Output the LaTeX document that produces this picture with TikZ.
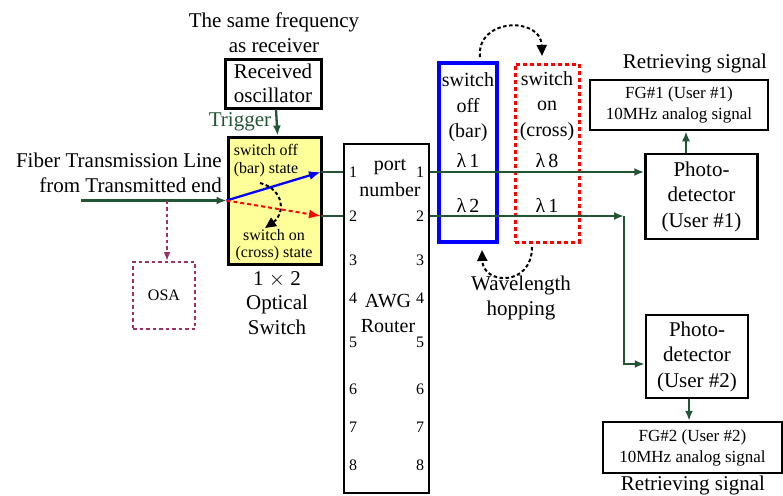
\documentclass[tikz,border=0pt]{standalone}
\usepackage{fontspec}
\setmainfont{Liberation Serif}
\usetikzlibrary{arrows.meta}
\definecolor{fgreen}{RGB}{34,85,51}
\definecolor{swyellow}{RGB}{255,255,153}
\definecolor{osapurple}{RGB}{153,51,102}
\begin{document}
\begin{tikzpicture}[x=1pt,y=-1pt,
  bigtext/.style={font=\fontsize{21}{24.5}\selectfont, align=center, inner sep=0pt},
  midtext/.style={font=\fontsize{20}{25.5}\selectfont, align=center, inner sep=0pt},
  smalltext/.style={font=\fontsize{16}{17.5}\selectfont, align=center, inner sep=0pt},
  box/.style={draw, line width=2.5pt, inner sep=0pt, align=center},
  gline/.style={draw=fgreen, line width=2.3pt},
  garrow/.style={gline, -{Latex[length=10pt,width=8pt]}},
  hoparrow/.style={draw=black, line width=2pt, dash pattern=on 3.5pt off 2.5pt, -{Triangle[length=11pt,width=10pt]}},
  portnum/.style={font=\fontsize{16}{18}\selectfont, inner sep=0pt}
]
\useasboundingbox (0,0) rectangle (783,495);

% ---------- oscillator ----------
\node[bigtext] (freq) at (274,32.6) {The same frequency\\as receiver};
\node[box, line width=3pt, minimum width=96pt, minimum height=49pt,
      font=\fontsize{21}{24}\selectfont] (osc) at (273,83.5) {Received\\oscillator};

% ---------- optical switch ----------
\node[box, line width=3pt, fill=swyellow, minimum width=93pt, minimum height=127pt] (sw) at (274.5,200.5) {};
\node[smalltext] (swoff) at (266,160.5) {switch off\\(bar) state};
\node[smalltext] (swon) at (274,245) {switch on\\(cross) state};
\node[bigtext] (swlabel) at (277,302.8) {1 $\times$ 2\\Optical\\Switch};

\node[bigtext, text=fgreen, anchor=base] (trig) at (240,126) {Trigger};
\draw[garrow] ([xshift=3pt]osc.south) -- ([xshift=3pt]sw.north);

\coordinate (o1) at (321,172);
\coordinate (o2) at (321,216);
\draw[line width=2.3pt, draw=blue, -{Latex[length=12pt,width=9pt]}] (sw.west) -- (o1);
\draw[line width=2pt, draw=red, dash pattern=on 4pt off 3pt, -{Latex[length=12pt,width=9pt]}] (sw.west) -- (o2);
\draw[hoparrow] (260,183) .. controls (286,190) and (284,215) .. (265,228);

% ---------- input fiber ----------
\node[bigtext, align=right, anchor=east] (fiber) at (222,173) {Fiber Transmission Line\\from Transmitted end};
\coordinate (fin) at (81,200.5);
\draw[garrow] (fin) -- (sw.west);

% ---------- OSA ----------
\node[draw=osapurple, line width=2pt, dash pattern=on 3.5pt off 3pt, minimum width=62pt, minimum height=67pt,
      inner sep=0pt, font=\fontsize{16}{18}\selectfont] (osa) at (164,295.5) {OSA};
\coordinate (tap) at (167,200.5);
\draw[draw=osapurple, line width=2pt, dash pattern=on 3.5pt off 3pt, -{Latex[length=9pt,width=7pt]}] (tap) -- (tap |- osa.north);

% ---------- AWG ----------
\node[draw, line width=2pt, minimum width=85pt, minimum height=349pt, inner sep=0pt] (awg) at (386.5,318.5) {};
\node[midtext] (port) at (390,178) {port\\number};
\node[midtext, font=\fontsize{20}{25}\selectfont] (awgname) at (388,313.5) {AWG\\Router};
\foreach \n/\yy in {1/172,2/216,3/260,4/298,5/342,6/389,7/427,8/465}{
  \node[portnum] (pl\n) at (353,\yy) {\n};
  \node[portnum] (pr\n) at (420,\yy) {\n};
}
\draw[gline] (o1) -- (o1 -| awg.west);
\draw[gline] (o2) -- (o2 -| awg.west);

% ---------- wavelength boxes ----------
\node[draw=blue, line width=3.5pt, minimum width=58pt, minimum height=179pt, inner sep=0pt] (bar) at (468,152.5) {};
\node[draw=red, line width=3pt, dash pattern=on 4pt off 3pt, minimum width=64pt, minimum height=178pt, inner sep=0pt] (cross) at (547,153) {};
\node[midtext] (bartxt) at (468,107.5) {switch\\off\\(bar)};
\node[midtext] (crosstxt) at (547,106) {switch\\on\\(cross)};
\node[midtext, anchor=base] (l11) at (468,167) {λ\hspace{3pt}1};
\node[midtext, anchor=base] (l12) at (468,212) {λ\hspace{3pt}2};
\node[midtext, anchor=base] (l81) at (547,167) {λ\hspace{3pt}8};
\node[midtext, anchor=base] (l82) at (547,212) {λ\hspace{3pt}1};

\draw[hoparrow] (480,57) .. controls (476,18) and (541,16) .. (542,56);
\draw[hoparrow] (532,247) .. controls (532,287) and (483,285) .. (482,250);
\node[bigtext] (hop) at (521,298) {Wavelength\\hopping};

% ---------- receivers ----------
\node[box, minimum width=112pt, minimum height=85pt, font=\fontsize{21}{25.5}\selectfont] (pd1) at (701.5,196.5) {Photo-\\detector\\(User \#1)};
\node[box, minimum width=102pt, minimum height=83pt, font=\fontsize{21}{25.5}\selectfont] (pd2) at (697,356.5) {Photo-\\detector\\(User \#2)};
\node[box, minimum width=178pt, minimum height=50pt, font=\fontsize{17}{21}\selectfont] (fg1) at (679,105) {FG\#1 (User \#1)\\10MHz analog signal};
\node[box, minimum width=179pt, minimum height=51pt, font=\fontsize{17}{21}\selectfont] (fg2) at (692.5,447.5) {FG\#2 (User \#2)\\10MHz analog signal};
\node[bigtext, anchor=base] (ret1) at (695,68) {Retrieving signal};
\node[bigtext, anchor=base] (ret2) at (693,490) {Retrieving signal};

\coordinate (corner) at (624,216);
\draw[garrow] (awg.east |- o1) -- (o1 -| pd1.west);
\draw[garrow] (awg.east |- o2) -- (corner);
\draw[garrow] (corner) |- ([yshift=-7.5pt]pd2.west);
\draw[garrow] ([xshift=-15.5pt]pd1.north) -- ([xshift=-15.5pt]pd1.north |- fg1.south);
\draw[garrow] ([xshift=-8pt]pd2.south) -- ([xshift=-8pt]pd2.south |- fg2.north);
\end{tikzpicture}
\end{document}
